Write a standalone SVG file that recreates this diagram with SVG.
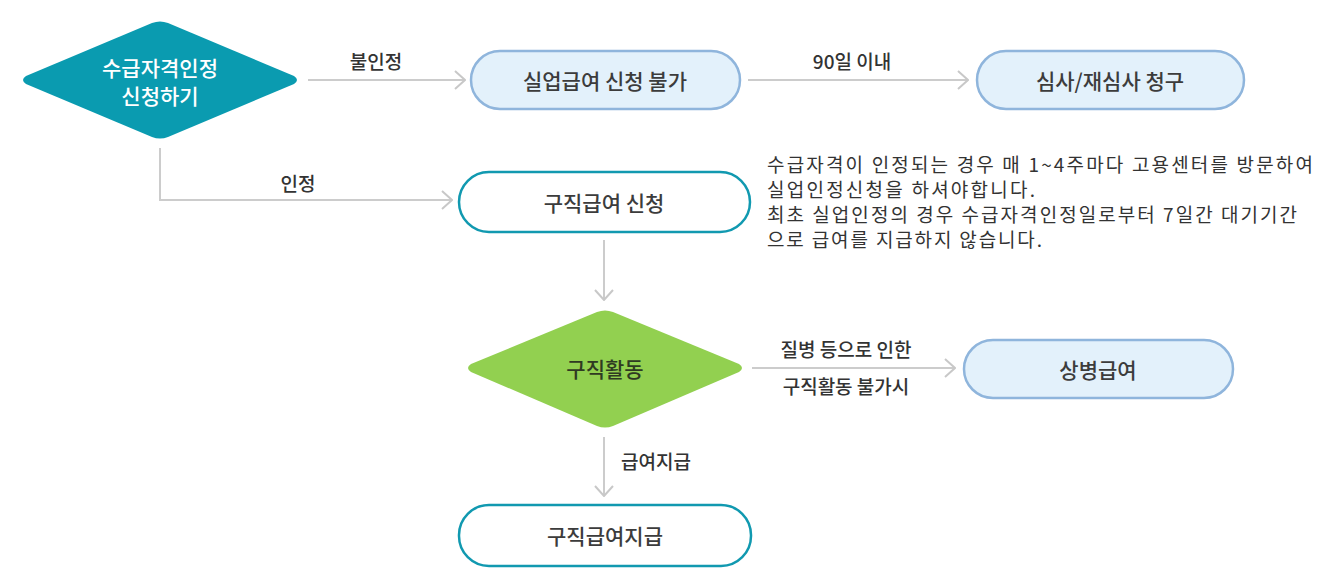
<svg xmlns="http://www.w3.org/2000/svg" width="1325" height="581" viewBox="0 0 1325 581">
<defs>
<marker id="arr" viewBox="0 0 12 20" refX="11" refY="10" markerWidth="12" markerHeight="20" markerUnits="userSpaceOnUse" orient="auto">
<path d="M1,1 L11,10 L1,19" fill="none" stroke="#c8c8c8" stroke-width="2"/>
</marker>
<style>
text{font-family:"Noto Sans CJK KR","Noto Sans",sans-serif;}
.lbl{font-size:19px;font-weight:500;fill:#333;text-anchor:middle;}
.nt{font-size:21px;font-weight:500;fill:#3c3c3c;text-anchor:middle;dominant-baseline:central;}
.pillb{fill:#e3f1fb;stroke:#8fb5dc;stroke-width:2.5;}
.pillt{fill:#fff;stroke:#1199b0;stroke-width:2.5;}
.con{fill:none;stroke:#cccccc;stroke-width:2;marker-end:url(#arr);}
.desc{font-size:19px;fill:#333;}
</style>
</defs>
<rect width="1325" height="581" fill="#fff"/>
<g id="connectors">
<path class="con" d="M308,80 H465"/>
<path class="con" d="M748,80 H968"/>
<path class="con" d="M160,148 V200 H452"/>
<path class="con" d="M604,240 V300"/>
<path class="con" d="M752,368 H955"/>
<path class="con" d="M604,437 V496"/>
<text class="lbl" x="376" y="69">불인정</text>
<text class="lbl" x="852" y="69">90일 이내</text>
<text class="lbl" x="298" y="191">인정</text>
<text class="lbl" x="846" y="357">질병 등으로 인한</text>
<text class="lbl" x="846" y="394">구직활동 불가시</text>
<text class="lbl" x="621" y="469" style="text-anchor:start">급여지급</text>
</g>
<g id="n1">
<path d="M26,84 Q20,80 26,76 L152,23 Q160,20 168,23 L294,76 Q300,80 294,84 L168,137 Q160,140 152,137 Z" fill="#0a9bb0"/>
<text x="160" y="67" font-size="21" font-weight="500" fill="#fff" text-anchor="middle" dominant-baseline="central">수급자격인정</text>
<text x="160" y="95" font-size="21" font-weight="500" fill="#fff" text-anchor="middle" dominant-baseline="central">신청하기</text>
</g>
<g id="n2">
<rect class="pillb" x="471" y="51" width="269" height="58" rx="29"/>
<text class="nt" x="605" y="80">실업급여 신청 불가</text>
</g>
<g id="n3">
<rect class="pillb" x="977" y="51" width="267" height="58" rx="29"/>
<text class="nt" x="1110" y="80">심사/재심사 청구</text>
</g>
<g id="n4">
<rect class="pillt" x="459" y="172" width="291" height="60" rx="30"/>
<text class="nt" x="604" y="202">구직급여 신청</text>
</g>
<g id="note">
<text class="desc" x="767" y="172" textLength="546" lengthAdjust="spacing">수급자격이 인정되는 경우 매 1~4주마다 고용센터를 방문하여</text>
<text class="desc" x="767" y="197" textLength="268" lengthAdjust="spacing">실업인정신청을 하셔야합니다.</text>
<text class="desc" x="767" y="222" textLength="530" lengthAdjust="spacing">최초 실업인정의 경우 수급자격인정일로부터 7일간 대기기간</text>
<text class="desc" x="767" y="247" textLength="275" lengthAdjust="spacing">으로 급여를 지급하지 않습니다.</text>
</g>
<g id="n5">
<path d="M471,372 Q465,368 471,364 L597,312 Q605,309 613,312 L739,364 Q745,368 739,372 L613,426 Q605,429 597,426 Z" fill="#92d050"/>
<text class="nt" x="605" y="368" style="fill:#2f3a22">구직활동</text>
</g>
<g id="n6">
<rect class="pillb" x="964" y="340" width="269" height="58" rx="29"/>
<text class="nt" x="1098" y="369">상병급여</text>
</g>
<g id="n7">
<rect class="pillt" x="459" y="505" width="292" height="61" rx="30"/>
<text class="nt" x="605" y="535">구직급여지급</text>
</g>
</svg>
